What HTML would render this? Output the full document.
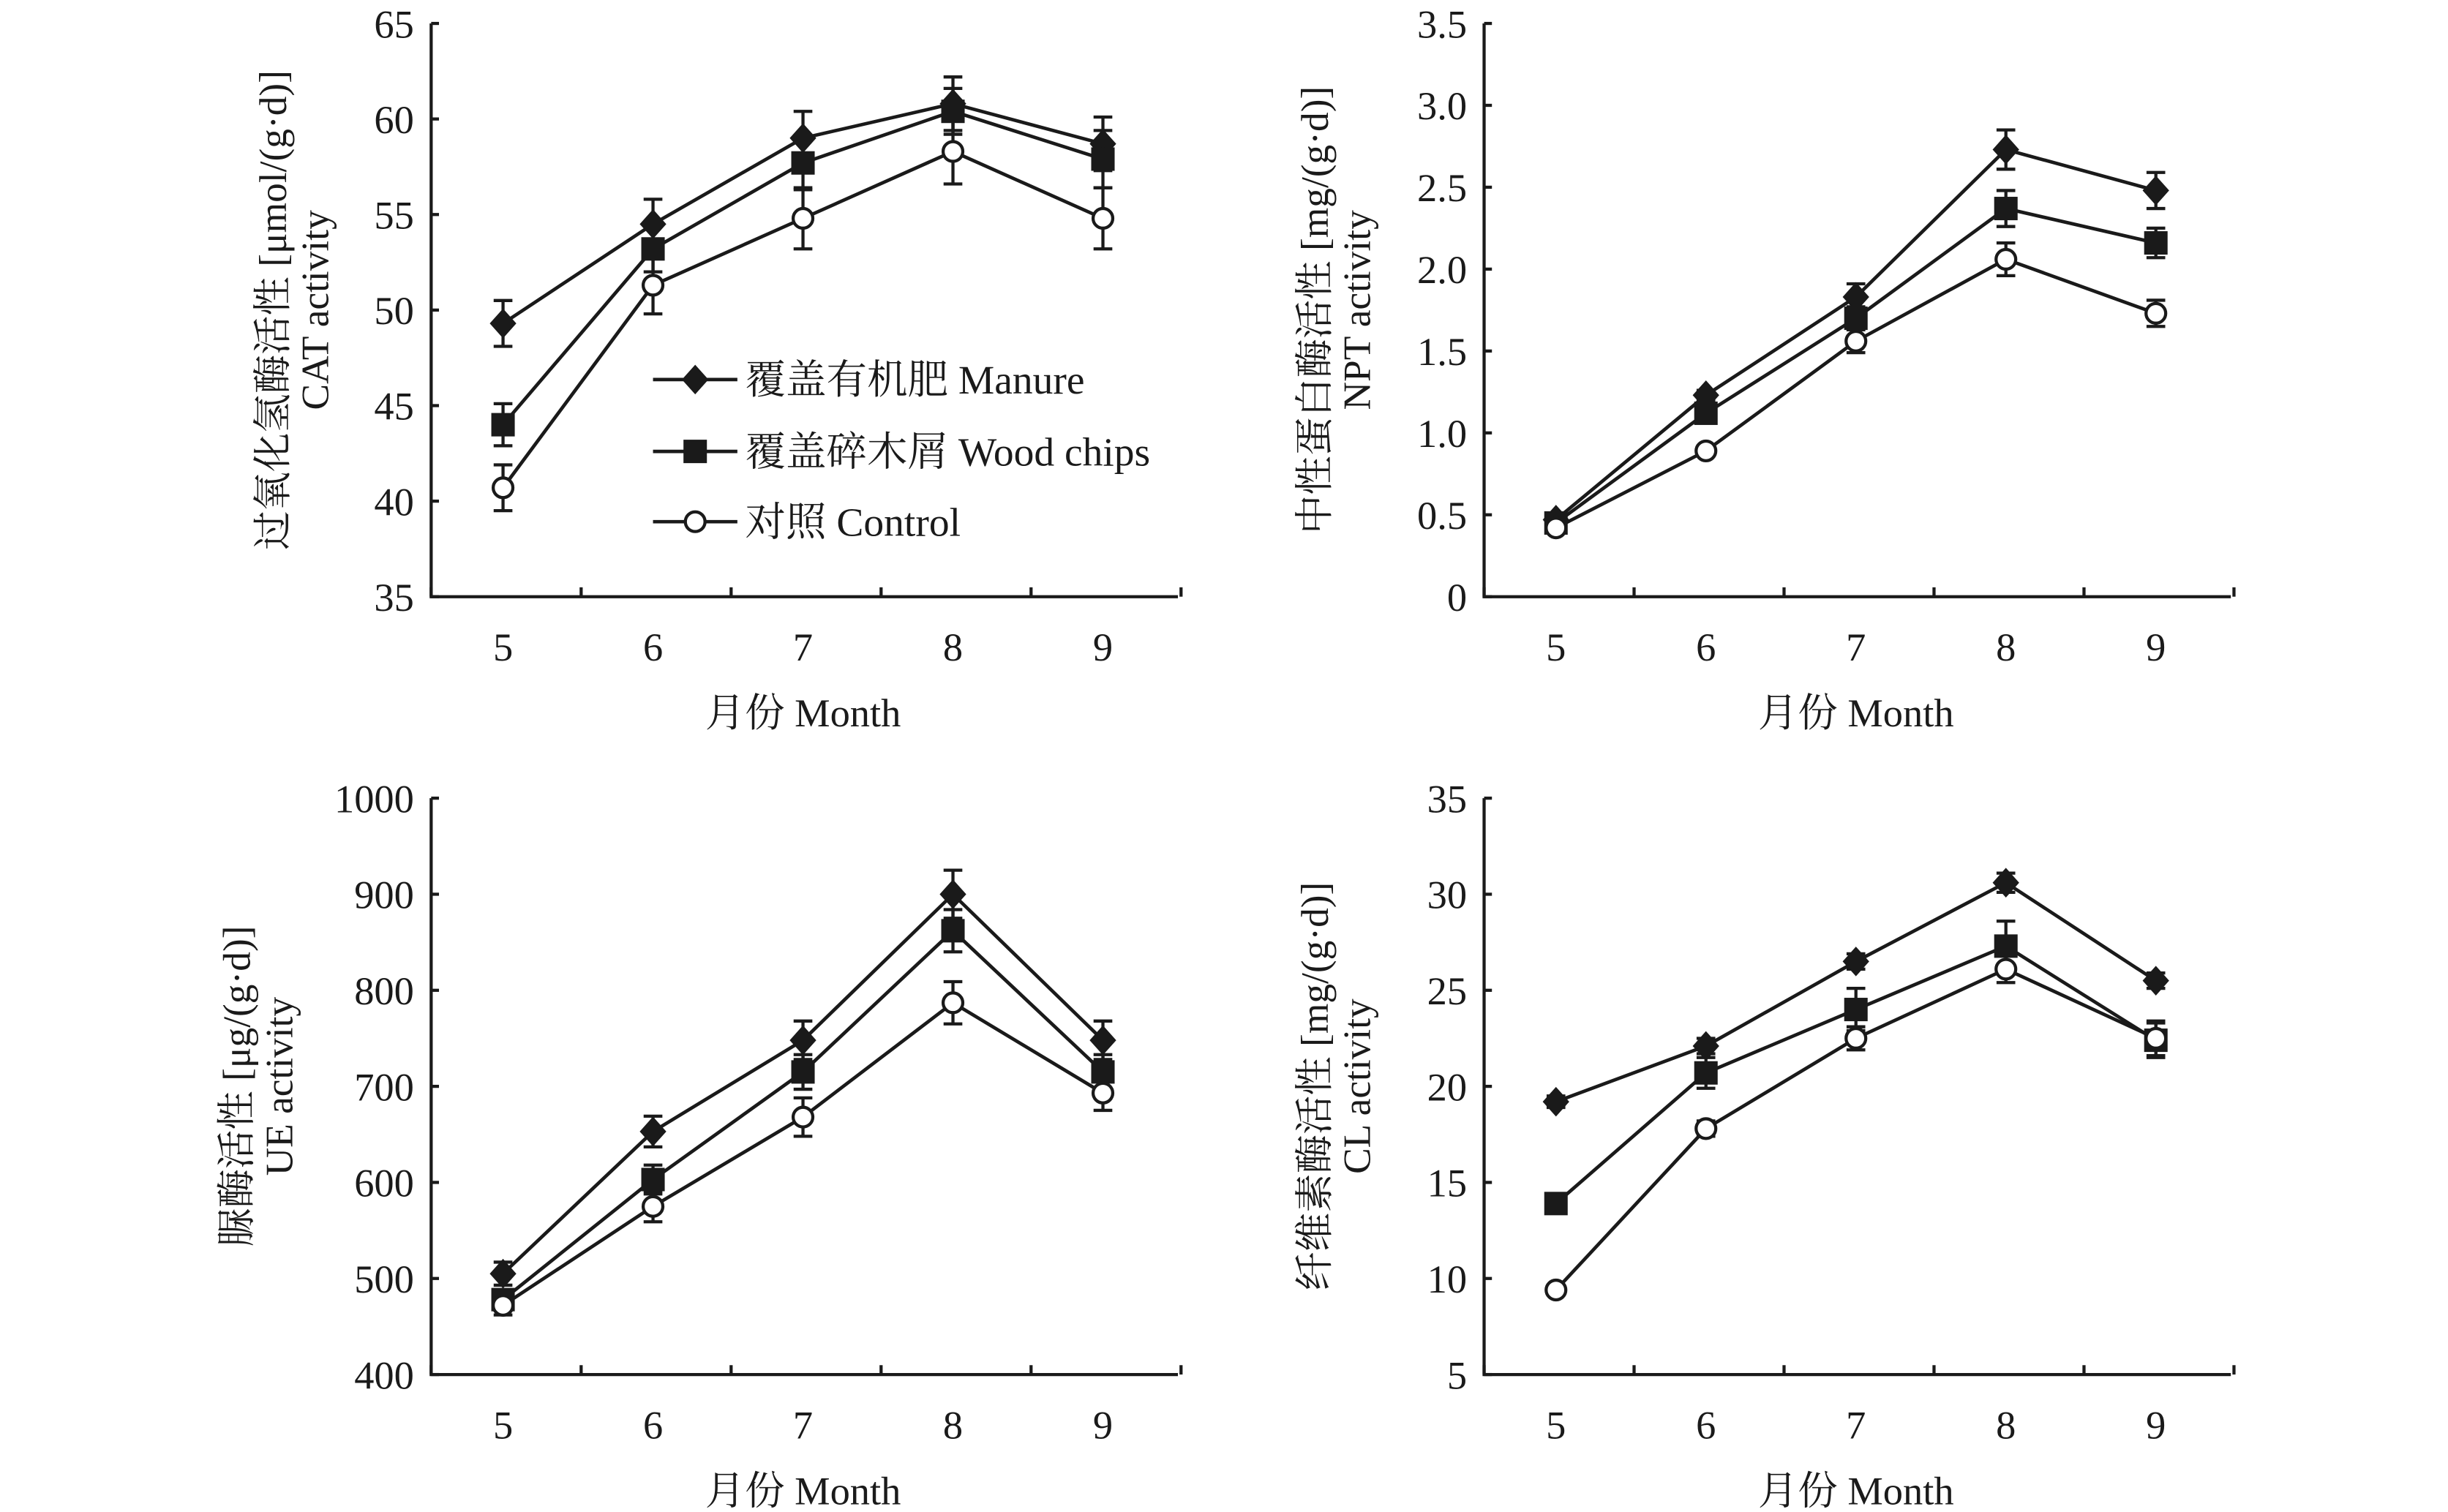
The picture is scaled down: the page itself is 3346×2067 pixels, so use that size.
<!DOCTYPE html>
<html><head><meta charset="utf-8"><style>
html,body{margin:0;padding:0;background:#fff}
svg{display:block}
text{font-family:"Liberation Serif","Noto Serif CJK SC",serif;fill:#1a1a1a}
</style></head><body>
<svg id="fig" width="3346" height="2067" viewBox="0 0 1567 968" xmlns="http://www.w3.org/2000/svg"></svg>
<script>
const months = ["5","6","7","8","9"];
const seriesNames = ["覆盖有机肥 Manure","覆盖碎木屑 Wood chips","对照 Control"];
const markerTypes = ["diamond","square","circle"];
// CAT
const catManure = [49.3,54.5,59.0,60.8,58.7];
const catManureErr = [1.2,1.3,1.4,1.4,1.4];
const catWood = [44.0,53.2,57.7,60.4,57.9];
const catWoodErr = [1.1,1.2,1.4,1.2,1.5];
const catControl = [40.7,51.3,54.8,58.3,54.8];
const catControlErr = [1.2,1.5,1.6,1.7,1.6];
const catTicks = ["35","40","45","50","55","60","65"];
// NPT
const nptManure = [0.47,1.23,1.83,2.73,2.48];
const nptManureErr = [0.02,0.03,0.08,0.12,0.11];
const nptWood = [0.45,1.12,1.70,2.37,2.16];
const nptWoodErr = [0.02,0.04,0.07,0.11,0.09];
const nptControl = [0.42,0.89,1.56,2.06,1.73];
const nptControlErr = [0.02,0.03,0.07,0.10,0.08];
const nptTicks = ["0","0.5","1.0","1.5","2.0","2.5","3.0","3.5"];
// UE
const ueManure = [505,653,748,900,748];
const ueManureErr = [12,16,20,25,20];
const ueWood = [478,603,715,862,715];
const ueWoodErr = [10,15,18,22,18];
const ueControl = [472,575,668,787,693];
const ueControlErr = [10,16,20,22,18];
const ueTicks = ["400","500","600","700","800","900","1000"];
// CL
const clManure = [19.2,22.1,26.5,30.6,25.5];
const clManureErr = [0.3,0.4,0.4,0.5,0.4];
const clWood = [13.9,20.7,24.0,27.3,22.4];
const clWoodErr = [0.5,0.8,1.1,1.3,0.9];
const clControl = [9.4,17.8,22.5,26.1,22.5];
const clControlErr = [0.2,0.4,0.6,0.7,0.9];
const clTicks = ["5","10","15","20","25","30","35"];

const NS="http://www.w3.org/2000/svg";
const svg=document.getElementById('fig');
function mk(tag,attrs,parent){const e=document.createElementNS(NS,tag);for(const k in attrs)e.setAttribute(k,attrs[k]);(parent||svg).appendChild(e);return e;}

function marker(g,type,x,y){
  let e;
  if(type==="diamond"){e=mk('polygon',{points:`${x},${y-9.5} ${x+8.5},${y} ${x},${y+9.5} ${x-8.5},${y}`,fill:'#1a1a1a'},g);}
  else if(type==="square"){e=mk('rect',{x:x-7.5,y:y-7.5,width:15,height:15,fill:'#1a1a1a'},g);}
  else {e=mk('circle',{cx:x,cy:y,r:6.3,fill:'#fff',stroke:'#1a1a1a','stroke-width':2},g);}
  return e;
}

function panel(name,ax,top,bottom,ticks,series,errs,title1,title2,tx){
  const g=mk('g',{});
  
  
  const right=ax+478, step=96, x0=ax+46;
  const vmin=parseFloat(ticks[0]), vmax=parseFloat(ticks[ticks.length-1]);
  const X=i=>x0+i*step;
  const Y=v=>bottom-(v-vmin)/(vmax-vmin)*(bottom-top);
  const axes=mk('path',{d:`M${ax},${top} L${ax},${bottom} L${right},${bottom}`,fill:'none',stroke:'#1a1a1a','stroke-width':2},g);
  
  
  ticks.forEach(t=>{
    const y=Y(parseFloat(t));
    mk('line',{x1:ax,x2:ax+5,y1:y,y2:y,stroke:'#1a1a1a','stroke-width':2},g);
    const tl=mk('text',{x:ax-11,y:y+9,'text-anchor':'end','font-size':25.5},g);
    tl.textContent=t;
    
    
  });
  for(let i=0;i<=months.length;i++){
    const x=ax+i*step;
    mk('line',{x1:x,x2:x,y1:bottom,y2:bottom-6,stroke:'#1a1a1a','stroke-width':2},g);
  }
  months.forEach((m,i)=>{
    const t=mk('text',{x:X(i),y:bottom+41,'text-anchor':'middle','font-size':25.5},g);
    t.textContent=m;
    
    
  });
  const xt=mk('text',{x:ax+238,y:bottom+83,'text-anchor':'middle','font-size':25.5},g);
  xt.textContent="月份 Month";
  
  
  const cy=(top+bottom)/2;
  const y1=mk('text',{x:0,y:0,'text-anchor':'middle','font-size':25,transform:`translate(${tx},${cy}) rotate(-90)`},g);
  y1.textContent=title1;
  
  
  const y2=mk('text',{x:0,y:0,'text-anchor':'middle','font-size':25,transform:`translate(${tx+27},${cy}) rotate(-90)`},g);
  y2.textContent=title2;
  
  
  series.forEach((vals,s)=>{
    const sg=mk('g',{},g);
    
    
    const pts=vals.map((v,i)=>`${X(i)},${Y(v)}`).join(' ');
    mk('polyline',{points:pts,fill:'none',stroke:'#1a1a1a','stroke-width':2.2},sg);
    vals.forEach((v,i)=>{
      const e=errs[s][i], x=X(i);
      const eb=mk('path',{d:`M${x},${Y(v+e)} L${x},${Y(v-e)} M${x-6},${Y(v+e)} L${x+6},${Y(v+e)} M${x-6},${Y(v-e)} L${x+6},${Y(v-e)}`,stroke:'#1a1a1a','stroke-width':2,fill:'none'},sg);
      
      
    });
    vals.forEach((v,i)=>{
      const p=marker(sg,markerTypes[s],X(i),Y(v));
      
      
    });
  });
}

panel('cat',276,15,382,catTicks,[catManure,catWood,catControl],[catManureErr,catWoodErr,catControlErr],"过氧化氢酶活性 [μmol/(g·d)]","CAT activity",183);
panel('npt',950,15,382,nptTicks,[nptManure,nptWood,nptControl],[nptManureErr,nptWoodErr,nptControlErr],"中性蛋白酶活性 [mg/(g·d)]","NPT activity",850);
panel('ue',276,511,880,ueTicks,[ueManure,ueWood,ueControl],[ueManureErr,ueWoodErr,ueControlErr],"脲酶活性 [μg/(g·d)]","UE activity",160);
panel('cl',950,511,880,clTicks,[clManure,clWood,clControl],[clManureErr,clWoodErr,clControlErr],"纤维素酶活性 [mg/(g·d)]","CL activity",850);

const lg=mk('g',{});


const legY=[243,289,334];
seriesNames.forEach((n,s)=>{
  const eg=mk('g',{},lg);
  
  
  mk('line',{x1:418,x2:472,y1:legY[s],y2:legY[s],stroke:'#1a1a1a','stroke-width':2.2},eg);
  marker(eg,markerTypes[s],445,legY[s]);
  const t=mk('text',{x:477,y:legY[s]+9,'font-size':26},eg);
  t.textContent=n;
});
</script>
</body></html>
